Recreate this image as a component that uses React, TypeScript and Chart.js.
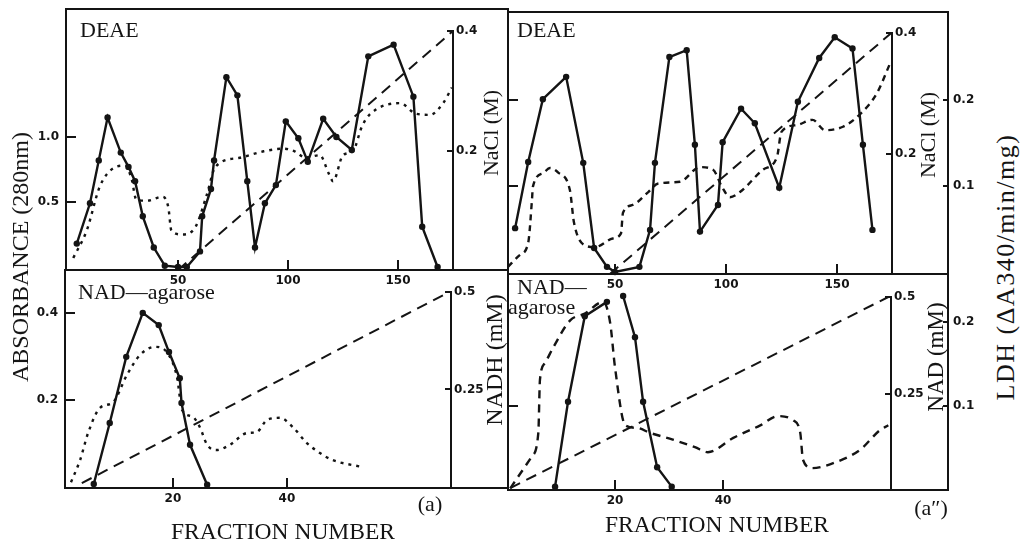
import React, { useEffect, useRef } from 'react';
import { Chart, registerables } from 'chart.js';
Chart.register(...registerables);

const INK = '#141414';
const PT = 30;
const XH = 26;
const TICK_FONT = { family: "'DejaVu Sans', sans-serif", size: 12, weight: 'bold' as const };

// ---------- Top-left (DEAE, panel a) ----------
const TL_SOLID_X = [4, 10, 14, 18, 24, 27.5, 30.5, 34, 39, 44, 50, 54, 60, 61, 65, 66.4, 72, 77, 81.5, 85, 89.5, 94.5, 99, 104.7, 109, 116, 122, 129, 136.5, 148, 157, 161, 168];
const TL_SOLID_Y = [0.18, 0.49, 0.82, 1.15, 0.88, 0.77, 0.66, 0.39, 0.15, 0.01, 0, 0, 0.12, 0.39, 0.6, 0.82, 1.46, 1.32, 0.66, 0.15, 0.49, 0.63, 1.12, 0.99, 0.81, 1.14, 1.0, 0.9, 1.62, 1.71, 1.31, 0.31, 0];
const TL_ABS_X = [2.4, 8.5, 14.5, 20.6, 26, 29, 31, 36, 43, 45.6, 47, 52, 58, 63, 67, 78, 89, 98, 103, 108, 114.5, 118.5, 120.5, 125, 129.5, 133.6, 137, 151, 158, 164.5, 170.5, 174.5];
const TL_ABS_Y = [0.07, 0.28, 0.62, 0.76, 0.78, 0.67, 0.52, 0.51, 0.54, 0.46, 0.28, 0.25, 0.31, 0.55, 0.77, 0.84, 0.89, 0.91, 0.89, 0.84, 0.86, 0.72, 0.66, 0.86, 0.89, 1.08, 1.17, 1.26, 1.18, 1.17, 1.26, 1.38];
const TL_NACL_X = [50, 175];
const TL_NACL_Y = [0, 0.4];

// ---------- Top-right (DEAE, panel a'') ----------
const TR_LDH_X = [5, 10.9, 17.5, 28, 35.7, 40.6, 46.4, 50, 61, 65.8, 68, 74.5, 82.3, 86, 88.3, 96.4, 98.5, 106.8, 113, 124, 132.4, 142, 149, 157, 161.7, 166];
const TR_LDH_Y = [0.051, 0.128, 0.201, 0.227, 0.127, 0.028, 0.006, 0, 0.006, 0.049, 0.127, 0.25, 0.258, 0.148, 0.047, 0.078, 0.151, 0.19, 0.173, 0.098, 0.198, 0.249, 0.273, 0.26, 0.148, 0.049];
const TR_ABS_X = [1.8, 7.2, 10.9, 12.6, 13, 17.6, 20.7, 24.3, 29.7, 31.5, 36.5, 41, 49, 52.7, 53.6, 58, 65, 69.5, 79.3, 88.3, 94.2, 98.2, 101.8, 106.3, 116.7, 123, 125, 132, 139, 144.6, 152.7, 161, 168, 174];
const TR_ABS_Y = [0.006, 0.02, 0.034, 0.084, 0.099, 0.115, 0.121, 0.116, 0.095, 0.058, 0.031, 0.029, 0.039, 0.045, 0.069, 0.078, 0.093, 0.103, 0.105, 0.122, 0.119, 0.099, 0.087, 0.093, 0.119, 0.134, 0.163, 0.171, 0.177, 0.165, 0.169, 0.185, 0.208, 0.243];
const TR_NACL_X = [47.7, 174.5];
const TR_NACL_Y = [0, 0.4];

// ---------- Bottom-left (NAD-agarose, panel a) ----------
const BL_SOLID_X = [6.1, 8.9, 11.8, 14.7, 17.5, 19.3, 21.2, 21.5, 23, 26];
const BL_SOLID_Y = [0.007, 0.147, 0.299, 0.4, 0.372, 0.31, 0.25, 0.193, 0.097, 0.005];
const BL_ABS_X = [2.1, 3.7, 5.1, 7.2, 9.5, 11.9, 14.2, 16.8, 18.9, 20.7, 21.6, 23.5, 24.7, 26, 27.7, 30, 33, 34.7, 36.5, 38.8, 41, 43.5, 45.8, 48, 53.2];
const BL_ABS_Y = [0.011, 0.062, 0.124, 0.182, 0.195, 0.257, 0.303, 0.322, 0.31, 0.253, 0.177, 0.161, 0.138, 0.097, 0.085, 0.097, 0.124, 0.126, 0.154, 0.159, 0.138, 0.101, 0.078, 0.062, 0.046];
const BL_NADH_X = [4, 68.5];
const BL_NADH_Y = [0.01, 0.5];

// ---------- Bottom-right (NAD-agarose, panel a'') ----------
const BR_LDH_X = [8.9, 11.3, 14.4, 18.5, 20, 21.5, 23.7, 25.2, 27.8, 30.5];
const BR_LDH_Y = [0.004, 0.105, 0.207, 0.224, null, 0.231, 0.182, 0.105, 0.027, 0.004];
const BR_ABS_X = [0.6, 4.6, 5.8, 6.1, 7, 8.5, 11.7, 14.4, 17.8, 19.1, 20, 21.9, 24, 26.5, 30.7, 34.8, 37.2, 41.9, 46.9, 50.2, 53, 54.3, 54.8, 56.5, 60.4, 65.4, 69, 70.6];
const BR_ABS_Y = [0.002, 0.04, 0.068, 0.131, 0.151, 0.169, 0.202, 0.21, 0.224, 0.199, 0.146, 0.077, 0.074, 0.068, 0.06, 0.051, 0.045, 0.062, 0.077, 0.088, 0.083, 0.068, 0.036, 0.026, 0.032, 0.048, 0.071, 0.077];
const BR_NAD_X = [0.6, 70.6];
const BR_NAD_Y = [0.005, 0.5];

// ---------- Tick values and labels ----------
const TOP_X_TICKS = [50, 100, 150];
const TOP_X_LABELS = ['50', '100', '150'];
const BOT_X_TICKS = [20, 40];
const BOT_X_LABELS = ['20', '40'];
const TL_ABS_TICKS = [0.5, 1.0];
const TL_ABS_LABELS = ['0.5', '1.0'];
const NACL_TICKS = [0.2, 0.4];
const NACL_LABELS = ['0.2', '0.4'];
const LDH_TICKS = [0.1, 0.2];
const LDH_LABELS = ['0.1', '0.2'];
const BL_ABS_TICKS = [0.2, 0.4];
const BL_ABS_LABELS = ['0.2', '0.4'];
const NAD_TICKS = [0.25, 0.5];
const NAD_LABELS = ['0.25', '0.5'];
const BR_LEFT_TICKS = [0.1];

const pts = (xs: number[], ys: (number | null)[]) => xs.map((x, i) => ({ x, y: ys[i] }));

const solid = (data: any, axis: string) => ({
  data, yAxisID: axis, borderColor: INK, borderWidth: 2.4, pointRadius: 3.2,
  pointBackgroundColor: INK, pointBorderColor: INK, pointBorderWidth: 0, tension: 0, clip: false, spanGaps: false,
});
const dashed = (data: any, axis: string, dash: number[], width = 2.4) => ({
  data, yAxisID: axis, borderColor: INK, borderWidth: width, borderDash: dash, pointRadius: 0,
  cubicInterpolationMode: 'monotone', clip: false,
});
const grad = (data: any, axis: string) => ({
  data, yAxisID: axis, borderColor: INK, borderWidth: 2, borderDash: [11, 7], pointRadius: 0, tension: 0, clip: false,
});

type Box = { l: number; t: number; r: number; b: number };
type AxisSpec = { min: number; max: number; ticks: number[]; labels: string[] };
type PanelSpec = {
  box: Box; axisX: number; chartTop: number;
  leftW: number; rightW1: number; rightW2: number;
  x: AxisSpec; yL: AxisSpec; yR: AxisSpec; yR2?: AxisSpec;
  datasets: any[];
};

const PANELS: PanelSpec[] = [
  {
    box: { l: 66, t: 9, r: 508, b: 270 }, axisX: 453, chartTop: 31,
    leftW: 50, rightW1: 55, rightW2: 0,
    x: { min: -0.9, max: 175, ticks: TOP_X_TICKS, labels: TOP_X_LABELS },
    yL: { min: -0.023, max: 1.815, ticks: TL_ABS_TICKS, labels: TL_ABS_LABELS },
    yR: { min: 0, max: 0.4, ticks: NACL_TICKS, labels: NACL_LABELS },
    datasets: [
      solid(pts(TL_SOLID_X, TL_SOLID_Y), 'yL'),
      dashed(pts(TL_ABS_X, TL_ABS_Y), 'yL', [3, 5]),
      grad(pts(TL_NACL_X, TL_NACL_Y), 'yR'),
    ],
  },
  {
    box: { l: 508, t: 12, r: 948, b: 274 }, axisX: 892, chartTop: 33,
    leftW: 14, rightW1: 56, rightW2: 40,
    x: { min: 1.8, max: 174.8, ticks: TOP_X_TICKS, labels: TOP_X_LABELS },
    yL: { min: -0.0023, max: 0.278, ticks: LDH_TICKS, labels: [] },
    yR: { min: 0, max: 0.4, ticks: NACL_TICKS, labels: NACL_LABELS },
    yR2: { min: -0.0023, max: 0.278, ticks: LDH_TICKS, labels: LDH_LABELS },
    datasets: [
      solid(pts(TR_LDH_X, TR_LDH_Y), 'yR2'),
      dashed(pts(TR_ABS_X, TR_ABS_Y), 'yL', [6, 5]),
      grad(pts(TR_NACL_X, TR_NACL_Y), 'yR'),
    ],
  },
  {
    box: { l: 65, t: 270, r: 508, b: 488 }, axisX: 451, chartTop: 292,
    leftW: 50, rightW1: 57, rightW2: 0,
    x: { min: 1.05, max: 68.8, ticks: BOT_X_TICKS, labels: BOT_X_LABELS },
    yL: { min: -0.0023, max: 0.448, ticks: BL_ABS_TICKS, labels: BL_ABS_LABELS },
    yR: { min: -0.0026, max: 0.5, ticks: NAD_TICKS, labels: NAD_LABELS },
    datasets: [
      solid(pts(BL_SOLID_X, BL_SOLID_Y), 'yL'),
      dashed(pts(BL_ABS_X, BL_ABS_Y), 'yL', [3, 5]),
      grad(pts(BL_NADH_X, BL_NADH_Y), 'yR'),
    ],
  },
  {
    box: { l: 508, t: 274, r: 948, b: 490 }, axisX: 891, chartTop: 297,
    leftW: 14, rightW1: 57, rightW2: 40,
    x: { min: 0.185, max: 71.1, ticks: BOT_X_TICKS, labels: BOT_X_LABELS },
    yL: { min: 0, max: 0.2298, ticks: BR_LEFT_TICKS, labels: [] },
    yR: { min: 0, max: 0.5, ticks: NAD_TICKS, labels: NAD_LABELS },
    yR2: { min: 0, max: 0.2298, ticks: LDH_TICKS, labels: LDH_LABELS },
    datasets: [
      solid(pts(BR_LDH_X, BR_LDH_Y), 'yR2'),
      dashed(pts(BR_ABS_X, BR_ABS_Y), 'yL', [8, 6]),
      grad(pts(BR_NAD_X, BR_NAD_Y), 'yR'),
    ],
  },
];

function yScale(a: AxisSpec, position: string, width: number, tickLen: number, pad: number, weight: number) {
  return {
    type: 'linear', position, min: a.min, max: a.max, weight,
    afterFit: (s: any) => { s.width = width; },
    afterBuildTicks: (s: any) => { s.ticks = a.ticks.map((v) => ({ value: v })); },
    ticks: { callback: (_v: any, i: number) => a.labels[i] ?? '', font: TICK_FONT, color: INK, padding: pad, autoSkip: false },
    grid: { drawOnChartArea: false, tickLength: tickLen, color: INK, lineWidth: 2 },
    border: { color: INK, width: 2 },
  };
}

function Panel({ p }: { p: PanelSpec }) {
  const ref = useRef<HTMLCanvasElement>(null);
  const W = p.leftW + (p.axisX - p.box.l) + p.rightW1 + p.rightW2;
  const H = PT + (p.box.b - p.chartTop) + XH;
  useEffect(() => {
    const scales: any = {
      x: {
        type: 'linear', position: 'bottom', min: p.x.min, max: p.x.max,
        afterFit: (s: any) => { s.height = XH; },
        afterBuildTicks: (s: any) => { s.ticks = p.x.ticks.map((v) => ({ value: v })); },
        ticks: { callback: (_v: any, i: number) => p.x.labels[i] ?? '', font: TICK_FONT, color: INK, padding: 14, autoSkip: false, maxRotation: 0 },
        grid: { drawOnChartArea: false, tickLength: -10, color: INK, lineWidth: 2 },
        border: { color: INK, width: 2 },
      },
      yL: yScale(p.yL, 'left', p.leftW, -10, 17, 0),
      yR: yScale(p.yR, 'right', p.rightW1, -6, 9, 1),
    };
    if (p.yR2) scales.yR2 = yScale(p.yR2, 'right', p.rightW2, -5, 10, 2);
    const chart = new Chart(ref.current!, {
      type: 'line',
      data: { datasets: p.datasets },
      options: {
        animation: false, responsive: false, devicePixelRatio: 1, events: [],
        layout: { autoPadding: false, padding: { top: PT, left: 0, right: 0, bottom: 0 } },
        plugins: { legend: { display: false }, tooltip: { enabled: false } },
        scales,
      } as any,
    });
    return () => chart.destroy();
  }, []);
  return (
    <canvas ref={ref} width={W} height={H}
      style={{ position: 'absolute', left: p.box.l - p.leftW, top: p.chartTop - PT, width: W, height: H }} />
  );
}

const SERIF = "'Liberation Serif', 'Times New Roman', serif";

function Txt({ x, y, text, size = 22, rot = false, anchor = 'center', ls = 0 }: { x: number; y: number; text: string; size?: number; rot?: boolean; anchor?: 'center' | 'left'; ls?: number }) {
  const tx = anchor === 'center' ? '-50%' : '0';
  return (
    <div style={{
      position: 'absolute', left: x, top: y, whiteSpace: 'nowrap', fontFamily: SERIF, fontSize: size, lineHeight: 1,
      letterSpacing: ls, color: INK, transform: `translate(${tx}, -50%)${rot ? ' rotate(-90deg)' : ''}`,
      transformOrigin: anchor === 'center' ? '50% 50%' : '0 50%',
    }}>{text}</div>
  );
}

export default function App() {
  return (
    <div style={{ position: 'absolute', left: 0, top: 0, width: 1021, height: 544, background: '#fff', overflow: 'hidden' }}>
      {PANELS.map((p, i) => (
        <div key={'f' + i} style={{
          position: 'absolute', left: p.box.l - 1, top: p.box.t - 1, width: p.box.r - p.box.l + 2, height: p.box.b - p.box.t + 2,
          border: `2px solid ${INK}`, boxSizing: 'border-box',
        }} />
      ))}
      {PANELS.map((p, i) => <Panel key={'p' + i} p={p} />)}
      <Txt x={80} y={30} text="DEAE" anchor="left" />
      <Txt x={517} y={30} text="DEAE" anchor="left" />
      <Txt x={78} y={292} text="NAD—agarose" anchor="left" />
      <Txt x={517} y={287} text="NAD—" anchor="left" />
      <Txt x={508} y={307} text="agarose" anchor="left" />
      <Txt x={430} y={504} text="(a)" />
      <Txt x={931} y={508} text="(a″)" />
      <Txt x={283} y={532} text="FRACTION NUMBER" size={23.5} />
      <Txt x={717} y={525} text="FRACTION NUMBER" size={23.5} />
      <Txt x={20} y={257} text="ABSORBANCE (280nm)" size={24} rot />
      <Txt x={491} y={133} text="NaCl (M)" rot />
      <Txt x={928} y={135} text="NaCl (M)" rot />
      <Txt x={494} y={360} text="NADH (mM)" size={24} rot />
      <Txt x={935} y={357} text="NAD (mM)" size={23} rot />
      <Txt x={1006} y={267} text="LDH (ΔA340/min/mg)" size={26} ls={1.5} rot />
    </div>
  );
}
